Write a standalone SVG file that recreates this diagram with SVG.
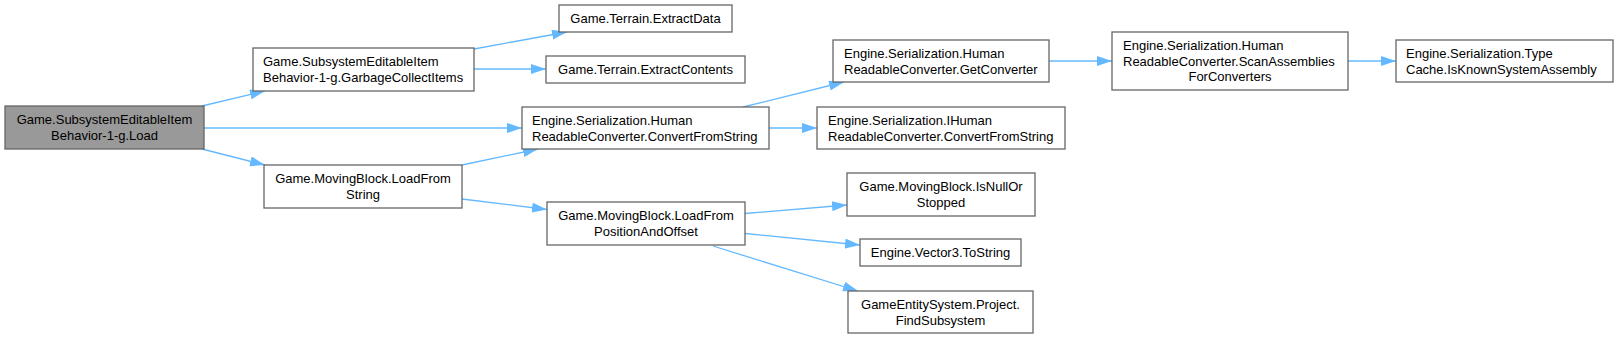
<svg xmlns="http://www.w3.org/2000/svg" width="1619" height="339" viewBox="0 0 1619 339">
<defs>
<marker id="ah" markerUnits="userSpaceOnUse" markerWidth="16" markerHeight="10" refX="15" refY="5" orient="auto" viewBox="0 0 16 10">
<path d="M0,0 L15,5 L0,10 z" fill="#63b8ff"/>
</marker>
</defs>
<style>
.n rect{fill:#ffffff;stroke:#666666;stroke-width:1.3}
.root rect{fill:#999999;stroke:#666666;stroke-width:1.3}
text{font-family:"Liberation Sans",Arial,sans-serif;font-size:13px;fill:#000000}
.c{text-anchor:middle}
.e line{stroke:#63b8ff;stroke-width:1.3;marker-end:url(#ah)}
</style>
<rect x="0" y="0" width="1619" height="339" fill="#ffffff"/>
<g class="e" id="connectors">
<line x1="202" y1="106" x2="265" y2="91"/>
<line x1="204" y1="128" x2="522" y2="128"/>
<line x1="202" y1="149" x2="265" y2="165"/>
<line x1="474" y1="49" x2="567" y2="32"/>
<line x1="474" y1="69" x2="546" y2="69"/>
<line x1="462" y1="165" x2="538" y2="149"/>
<line x1="462" y1="199" x2="547" y2="209.5"/>
<line x1="743" y1="107" x2="844" y2="82"/>
<line x1="769" y1="128" x2="817" y2="128"/>
<line x1="745" y1="213.5" x2="847" y2="205"/>
<line x1="745" y1="233.5" x2="860" y2="245"/>
<line x1="713" y1="246" x2="858" y2="291"/>
<line x1="1049" y1="61" x2="1112" y2="61"/>
<line x1="1348" y1="61" x2="1396" y2="61"/>
</g>
<g class="root" id="node-load">
<rect x="5" y="106" width="199" height="43"/>
<text class="c" x="104.5" y="124">Game.SubsystemEditableItem</text>
<text class="c" x="104.5" y="139.5">Behavior-1-g.Load</text>
</g>
<g class="n" id="node-garbage">
<rect x="253" y="48" width="221" height="43"/>
<text x="263" y="66">Game.SubsystemEditableItem</text>
<text x="263" y="81.5">Behavior-1-g.GarbageCollectItems</text>
</g>
<g class="n" id="node-loadfromstring">
<rect x="264" y="165" width="198" height="43"/>
<text class="c" x="363" y="183">Game.MovingBlock.LoadFrom</text>
<text class="c" x="363" y="198.5">String</text>
</g>
<g class="n" id="node-extractdata">
<rect x="559" y="5" width="173" height="27"/>
<text class="c" x="645.5" y="23">Game.Terrain.ExtractData</text>
</g>
<g class="n" id="node-extractcontents">
<rect x="546" y="56" width="199" height="27"/>
<text class="c" x="645.5" y="74">Game.Terrain.ExtractContents</text>
</g>
<g class="n" id="node-convertfromstring">
<rect x="522" y="107" width="247" height="42"/>
<text x="532" y="125">Engine.Serialization.Human</text>
<text x="532" y="140.5">ReadableConverter.ConvertFromString</text>
</g>
<g class="n" id="node-loadfrompos">
<rect x="547" y="202" width="198" height="43"/>
<text class="c" x="646" y="220">Game.MovingBlock.LoadFrom</text>
<text class="c" x="646" y="235.5">PositionAndOffset</text>
</g>
<g class="n" id="node-getconverter">
<rect x="833" y="40" width="216" height="42"/>
<text x="844" y="58">Engine.Serialization.Human</text>
<text x="844" y="73.5">ReadableConverter.GetConverter</text>
</g>
<g class="n" id="node-ihuman">
<rect x="817" y="107" width="248" height="42"/>
<text x="828" y="125">Engine.Serialization.IHuman</text>
<text x="828" y="140.5">ReadableConverter.ConvertFromString</text>
</g>
<g class="n" id="node-isnull">
<rect x="847" y="173" width="188" height="43"/>
<text class="c" x="941" y="191">Game.MovingBlock.IsNullOr</text>
<text class="c" x="941" y="206.5">Stopped</text>
</g>
<g class="n" id="node-vector3">
<rect x="860" y="239" width="161" height="27"/>
<text class="c" x="940.5" y="257">Engine.Vector3.ToString</text>
</g>
<g class="n" id="node-findsubsystem">
<rect x="848" y="291" width="185" height="42"/>
<text class="c" x="940.5" y="309">GameEntitySystem.Project.</text>
<text class="c" x="940.5" y="324.5">FindSubsystem</text>
</g>
<g class="n" id="node-scan">
<rect x="1112" y="32" width="236" height="58"/>
<text x="1123" y="50">Engine.Serialization.Human</text>
<text x="1123" y="65.5">ReadableConverter.ScanAssemblies</text>
<text class="c" x="1230" y="81">ForConverters</text>
</g>
<g class="n" id="node-isknown">
<rect x="1396" y="40" width="217" height="42"/>
<text x="1406" y="58">Engine.Serialization.Type</text>
<text x="1406" y="73.5">Cache.IsKnownSystemAssembly</text>
</g>
</svg>
